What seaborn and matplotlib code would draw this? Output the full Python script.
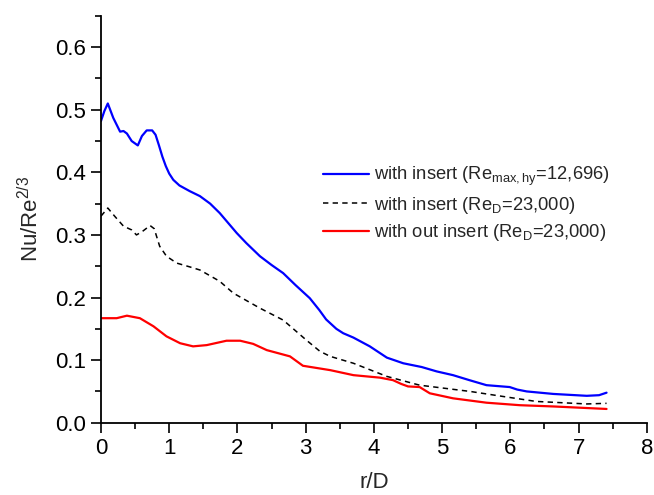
import numpy as np
import pandas as pd
import matplotlib
matplotlib.use("Agg")
import matplotlib.pyplot as plt
import seaborn as sns
from matplotlib.ticker import MultipleLocator

# with insert (Re_max,hy = 12,696)
blue_x = [0, 0.05, 0.1, 0.18, 0.28, 0.33, 0.38, 0.45, 0.54, 0.6, 0.67, 0.75, 0.8, 0.85,
          0.9, 0.95, 1.0, 1.06, 1.15, 1.3, 1.45, 1.6, 1.74, 1.99, 2.13, 2.33, 2.5,
          2.67, 2.85, 3.06, 3.2, 3.3, 3.45, 3.55, 3.7, 3.94, 4.19, 4.43, 4.7, 4.92,
          5.16, 5.4, 5.65, 5.99, 6.1, 6.24, 6.63, 7.12, 7.3, 7.41]
blue_y = [0.482, 0.498, 0.51, 0.487, 0.465, 0.466, 0.462, 0.45, 0.443, 0.458, 0.467,
          0.467, 0.46, 0.443, 0.425, 0.41, 0.398, 0.388, 0.379, 0.37, 0.362, 0.35,
          0.335, 0.303, 0.287, 0.266, 0.252, 0.239, 0.22, 0.199, 0.18, 0.165, 0.15,
          0.143, 0.136, 0.122, 0.104, 0.095, 0.089, 0.082, 0.076, 0.068, 0.060,
          0.057, 0.053, 0.050, 0.046, 0.043, 0.044, 0.048]

# with insert (Re_D = 23,000)
dash_x = [0, 0.1, 0.2, 0.33, 0.45, 0.52, 0.6, 0.72, 0.78, 0.86, 0.96, 1.11, 1.3, 1.45,
          1.74, 1.94, 2.33, 2.67, 3.01, 3.21, 3.36, 3.7, 4.19, 4.67, 5.41, 5.89, 6.38,
          7.12, 7.41]
dash_y = [0.33, 0.343, 0.33, 0.314, 0.308, 0.30, 0.305, 0.315, 0.31, 0.282, 0.266,
          0.255, 0.249, 0.244, 0.226, 0.207, 0.183, 0.164, 0.132, 0.114, 0.106, 0.095,
          0.074, 0.060, 0.050, 0.042, 0.034, 0.030, 0.031]

# with out insert (Re_D = 23,000)
red_x = [0, 0.23, 0.38, 0.57, 0.77, 0.96, 1.16, 1.35, 1.55, 1.84, 2.04, 2.23, 2.43,
         2.77, 2.96, 3.36, 3.70, 4.09, 4.28, 4.4, 4.5, 4.67, 4.82, 5.16, 5.65, 6.14,
         6.63, 7.41]
red_y = [0.167, 0.167, 0.171, 0.167, 0.154, 0.138, 0.127, 0.122, 0.124, 0.131, 0.131,
         0.126, 0.116, 0.106, 0.091, 0.084, 0.076, 0.072, 0.068, 0.062, 0.058, 0.057,
         0.047, 0.039, 0.032, 0.028, 0.026, 0.022]

labels = [r"with insert (Re$_{max,hy}$=12,696)",
          r"with insert (Re$_{D}$=23,000)",
          r"with out insert (Re$_{D}$=23,000)"]

sns.set_style("ticks")
plt.rcParams["font.family"] = ["Liberation Sans", "DejaVu Sans"]
plt.rcParams["mathtext.fontset"] = "custom"
plt.rcParams["mathtext.rm"] = "Liberation Sans"
plt.rcParams["mathtext.it"] = "Liberation Sans"
plt.rcParams["mathtext.default"] = "regular"

fig = plt.figure(figsize=(6.54, 4.95), dpi=100)
ax = fig.add_axes([0.1544, 0.146, 0.989 - 0.1544, 0.968 - 0.146])

sns.lineplot(x=blue_x, y=blue_y, ax=ax, color="#0000ff", lw=1.6, label=labels[0],
             solid_joinstyle="round")
sns.lineplot(x=dash_x, y=dash_y, ax=ax, color="black", lw=1.1, label=labels[1],
             linestyle=(0, (3.5, 2.8)))
sns.lineplot(x=red_x, y=red_y, ax=ax, color="#ff0000", lw=1.6, label=labels[2],
             solid_joinstyle="round")

ax.set_xlim(0, 8)
ax.set_ylim(0, 0.65)
ax.xaxis.set_major_locator(MultipleLocator(1))
ax.xaxis.set_minor_locator(MultipleLocator(0.5))
ax.yaxis.set_minor_locator(MultipleLocator(0.05))
ax.set_yticks(np.arange(0, 0.61, 0.1))
ax.yaxis.set_major_formatter(matplotlib.ticker.FormatStrFormatter("%.1f"))

sns.despine(ax=ax)
for s in ["left", "bottom"]:
    ax.spines[s].set_linewidth(1.3)
    ax.spines[s].set_color("black")
ax.tick_params(which="major", direction="out", length=7, width=1.2, colors="black",
               labelsize=16, pad=4)
ax.tick_params(which="minor", direction="out", length=4, width=1.2, colors="black")

ax.set_xlabel("r/D", fontsize=16, labelpad=9)
ax.set_ylabel(r"Nu/Re$^{2/3}$", fontsize=16, labelpad=8)

ax.legend(loc="center left", bbox_to_anchor=(323 / 654, 1 - 204 / 495),
          bbox_transform=fig.transFigure, frameon=False, fontsize=13.2,
          handlelength=2.5, handletextpad=0.3, labelspacing=0.35,
          borderpad=0, borderaxespad=0)

fig.savefig("out.png", dpi=100)
